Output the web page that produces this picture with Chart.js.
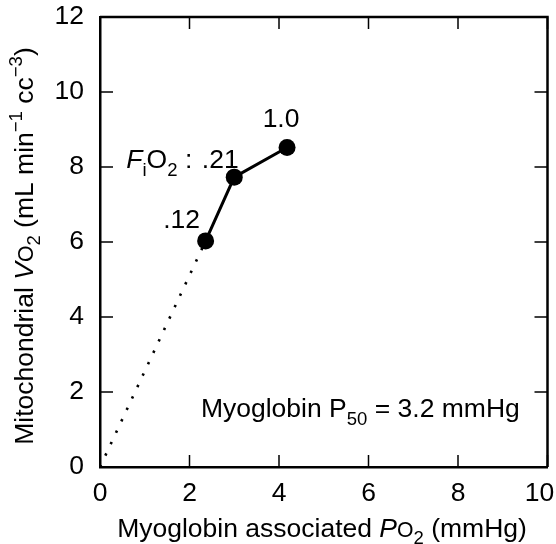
<!DOCTYPE html>
<html>
<head>
<meta charset="utf-8">
<script src="https://cdn.jsdelivr.net/npm/chart.js@4/dist/chart.umd.min.js"></script>
<style>
  html, body { margin: 0; padding: 0; background: #fff; }
  #wrap { width: 556px; height: 544px; }
</style>
</head>
<body>
<div id="wrap"><canvas id="myChart" width="556" height="544"></canvas></div>
<script>
// FiO2 levels, myoglobin-associated PO2 (mmHg), mitochondrial VO2
const fio2Labels = ['.12', '.21', '1.0'];
const po2 = [2.36, 3.0, 4.18];
const vo2 = [6.03, 7.73, 8.52];

// dotted extrapolation to the origin
const extrapX = [0, 2.36];
const extrapY = [0, 6.03];

const xTicks = [0, 2, 4, 6, 8, 10];
const yTicks = [0, 2, 4, 6, 8, 10, 12];

const FAMILY = '"Liberation Sans", Arial, Helvetica, sans-serif';
const FS = 26.5;

const sub = (t) => ({ t, s: 0.7, dy: 0.28 });
const sup = (t) => ({ t, s: 0.7, dy: -0.42 });

function drawRich(ctx, segs, x, y, size, align) {
  const fontOf = (s) => `${s.it ? 'italic ' : ''}${size * (s.s || 1)}px ${FAMILY}`;
  let w = 0;
  segs.forEach((s) => {
    ctx.font = fontOf(s);
    s.w = ctx.measureText(s.t).width;
    w += s.w;
  });
  let cx = align === 'center' ? x - w / 2 : align === 'right' ? x - w : x;
  ctx.textAlign = 'left';
  ctx.textBaseline = 'alphabetic';
  segs.forEach((s) => {
    ctx.font = fontOf(s);
    ctx.fillText(s.t, cx, y + (s.dy || 0) * size);
    cx += s.w;
  });
}

const frame = {
  id: 'frame',
  beforeDraw(chart) {
    // pull the last x label inside the canvas like the original
    const xs = chart.scales.x;
    const items = xs.getLabelItems(chart.chartArea);
    if (items.length) items[items.length - 1].options.translation[0] -= 8;
  },
  afterDraw(chart) {
    const { ctx, chartArea: a, scales } = chart;
    ctx.save();
    ctx.strokeStyle = '#000';
    ctx.lineWidth = 2.5;
    ctx.beginPath();
    ctx.moveTo(a.left, a.top);
    ctx.lineTo(a.right, a.top);
    ctx.lineTo(a.right, a.bottom);
    ctx.stroke();

    // inward ticks on all four sides
    ctx.lineWidth = 1.5;
    ctx.beginPath();
    xTicks.forEach((v) => {
      const px = scales.x.getPixelForValue(v);
      ctx.moveTo(px, a.bottom); ctx.lineTo(px, a.bottom - 12);
      ctx.moveTo(px, a.top); ctx.lineTo(px, a.top + 12);
    });
    yTicks.forEach((v) => {
      const py = scales.y.getPixelForValue(v);
      ctx.moveTo(a.left, py); ctx.lineTo(a.left + 13, py);
      ctx.moveTo(a.right, py); ctx.lineTo(a.right - 13, py);
    });
    ctx.stroke();

    ctx.fillStyle = '#000';
    // point labels
    const offs = [[-24, -13], [-14, -9], [-6, -21]];
    fio2Labels.forEach((lab, i) => {
      const px = scales.x.getPixelForValue(po2[i]) + offs[i][0];
      const py = scales.y.getPixelForValue(vo2[i]) + offs[i][1];
      drawRich(ctx, [{ t: lab }], px, py, FS, 'center');
    });
    const px21 = scales.x.getPixelForValue(po2[1]) - 42;
    const py21 = scales.y.getPixelForValue(vo2[1]) - 9;
    drawRich(ctx, [{ t: 'F', it: true }, sub('i'), { t: 'O' }, sub('2'), { t: ' :' }], px21, py21, FS, 'right');

    // P50 note
    drawRich(ctx, [{ t: 'Myoglobin P' }, sub('50'), { t: ' = 3.2 mmHg' }],
      scales.x.getPixelForValue(9.38), scales.y.getPixelForValue(1.33), FS, 'right');

    // axis titles
    drawRich(ctx, [{ t: 'Myoglobin associated ' }, { t: 'P', it: true }, { t: 'O', s: 0.8 }, sub('2'), { t: ' (mmHg)' }],
      322, 537, FS, 'center');
    ctx.translate(33, 246);
    ctx.rotate(-Math.PI / 2);
    drawRich(ctx, [{ t: 'Mitochondrial ' }, { t: 'V', it: true }, { t: 'O', s: 0.8 }, sub('2'),
      { t: ' (mL min' }, sup('\u22121'), { t: ' cc' }, sup('\u22123'), { t: ')' }], 0, 0, FS, 'center');
    ctx.restore();
  },
};

const ctx = document.getElementById('myChart').getContext('2d');

const chart = new Chart(ctx, {
  type: 'scatter',
  data: {
    datasets: [
      {
        data: po2.map((x, i) => ({ x, y: vo2[i] })),
        showLine: true,
        borderColor: '#000',
        backgroundColor: '#000',
        borderWidth: 3,
        pointRadius: 8.5,
        pointBorderWidth: 0,
      },
      {
        data: extrapX.map((x, i) => ({ x, y: extrapY[i] })),
        showLine: true,
        borderColor: '#000',
        borderWidth: 2.6,
        borderDash: [2.4, 10.2],
        pointRadius: 0,
      },
    ],
  },
  options: {
    responsive: false,
    animation: false,
    layout: { padding: { top: 17, right: 6, left: 0, bottom: 0 } },
    plugins: { legend: { display: false }, tooltip: { enabled: false } },
    scales: {
      x: {
        type: 'linear',
        min: 0,
        max: 10,
        afterBuildTicks: (s) => { s.ticks = xTicks.map((value) => ({ value })); },
        ticks: { color: '#000', padding: 3, font: { family: FAMILY, size: FS } },
        grid: { display: false },
        border: { display: true, color: '#000', width: 2.5 },
        afterFit: (s) => { s.height = 77; s.paddingLeft = 0; s.paddingRight = 0; },
      },
      y: {
        type: 'linear',
        min: 0,
        max: 12,
        afterBuildTicks: (s) => { s.ticks = yTicks.map((value) => ({ value })); },
        ticks: { color: '#000', padding: 8, font: { family: FAMILY, size: FS } },
        grid: { display: false },
        border: { display: true, color: '#000', width: 2.5 },
        afterFit: (s) => { s.width = 100; s.paddingTop = 0; s.paddingBottom = 0; },
      },
    },
  },
  plugins: [frame],
});
</script>
</body>
</html>
